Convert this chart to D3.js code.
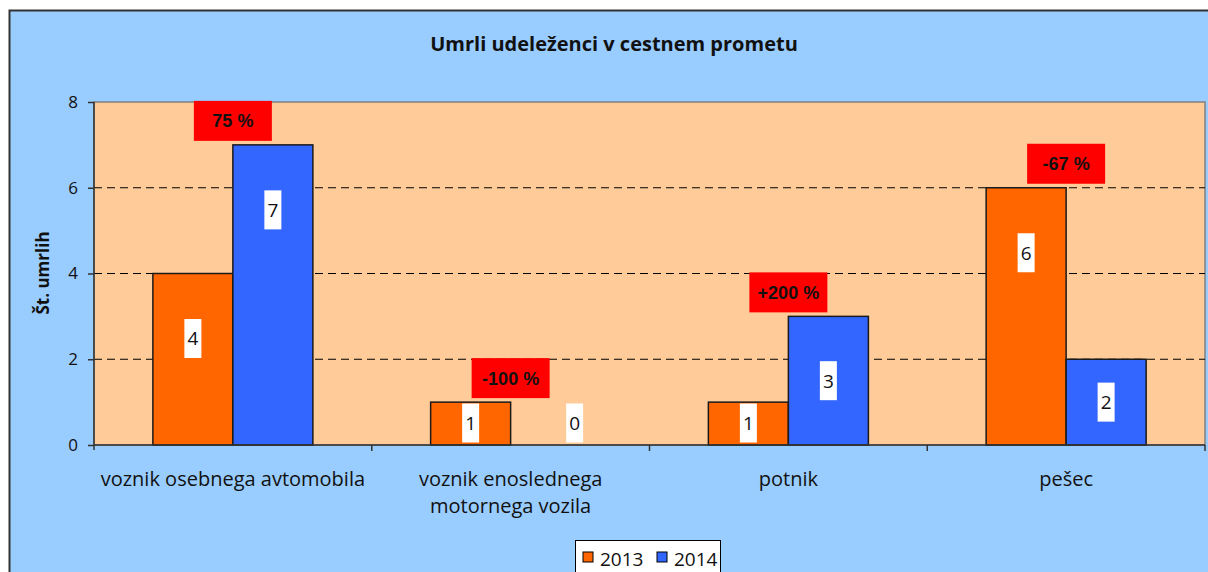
<!DOCTYPE html>
<html>
<head>
<meta charset="utf-8">
<script src="https://cdn.jsdelivr.net/npm/d3@7"></script>
<style>
    body { margin: 0; background: #fff; }
    svg { display: block; font-family: "Open Sans", sans-serif; }
</style>
</head>
<body>
<div id="chart"></div>
<script>
const categories = [["voznik osebnega avtomobila"], ["voznik enoslednega", "motornega vozila"], ["potnik"], ["pešec"]];
const years = ["2013", "2014"];
const values2013 = [4, 1, 1, 6];
const values2014 = [7, 0, 3, 2];
const changeLabels = ["75 %", "-100 %", "+200 %", "-67 %"];
const yTicks = [0, 2, 4, 6, 8];

const colors = { "2013": "#FF6600", "2014": "#3366FF" };

const width = 1208;
const height = 572;
const plot = { left: 94, top: 102, right: 1205, bottom: 445 };

const svg = d3.select("#chart")
    .append("svg")
    .attr("width", width)
    .attr("height", height);

// outer chart area (runs off the bottom/right of the window)
svg.append("rect")
    .attr("x", 9.5)
    .attr("y", 10.5)
    .attr("width", 1240)
    .attr("height", 640)
    .attr("fill", "#99CCFF")
    .attr("stroke", "#333")
    .attr("stroke-width", 2);

svg.append("text")
    .attr("x", 614)
    .attr("y", 51)
    .attr("text-anchor", "middle")
    .style("font-size", "20px")
    .style("font-weight", "bold")
    .attr("fill", "#111")
    .text("Umrli udeleženci v cestnem prometu");

const keys = categories.map((c, i) => i);

const x0 = d3.scaleBand()
    .domain(keys)
    .range([plot.left, plot.right])
    .padding(0);

const groupWidth = 160;
const x1 = d3.scaleBand()
    .domain(years)
    .range([0, groupWidth]);

const y = d3.scaleLinear()
    .domain([0, 8])
    .range([plot.bottom, plot.top]);

// plot area
svg.append("rect")
    .attr("x", plot.left)
    .attr("y", plot.top)
    .attr("width", plot.right - plot.left)
    .attr("height", plot.bottom - plot.top)
    .attr("fill", "#FFCC99")
    .attr("stroke", "#808080")
    .attr("stroke-width", 1.5);

// gridlines
svg.append("g")
    .selectAll("line")
    .data(yTicks.filter(t => t > 0 && t < 8))
    .enter()
    .append("line")
    .attr("x1", plot.left)
    .attr("x2", plot.right)
    .attr("y1", d => y(d))
    .attr("y2", d => y(d))
    .attr("stroke", "#000")
    .attr("stroke-width", 1)
    .attr("stroke-dasharray", "8,5");

// bars
const groups = svg.append("g")
    .selectAll("g")
    .data(keys)
    .enter()
    .append("g")
    .attr("transform", d => `translate(${x0(d) + (x0.bandwidth() - groupWidth) / 2},0)`);

const barData = i => years.map(yr => ({ year: yr, value: yr === "2013" ? values2013[i] : values2014[i] }));

groups.selectAll("rect")
    .data(d => barData(d))
    .enter()
    .append("rect")
    .filter(d => d.value > 0)
    .attr("x", d => x1(d.year))
    .attr("y", d => y(d.value))
    .attr("width", x1.bandwidth())
    .attr("height", d => y(0) - y(d.value))
    .attr("fill", d => colors[d.year])
    .attr("stroke", "#1a1a1a")
    .attr("stroke-width", 1.5);

// value labels on white boxes
function labelCenter(v) {
    return Math.min((y(v) + y(0)) / 2, y(v) + 65, y(0) - 22);
}

const valueLabels = groups.selectAll("g.val")
    .data(d => barData(d))
    .enter()
    .append("g")
    .attr("class", "val")
    .attr("transform", d => `translate(${x1(d.year) + x1.bandwidth() / 2 + (d.value === 0 ? 24 : 0)},${labelCenter(d.value)})`);

valueLabels.append("rect")
    .attr("x", -8.5)
    .attr("y", -19.5)
    .attr("width", 17)
    .attr("height", 39)
    .attr("fill", "#fff");

valueLabels.append("text")
    .attr("text-anchor", "middle")
    .attr("dy", "0.36em")
    .style("font-size", "19px")
    .attr("fill", "#111")
    .text(d => d.value);

// change boxes
const changes = groups.append("g")
    .attr("transform", d => `translate(${groupWidth / 2},${y(Math.max(values2013[d], values2014[d])) - 4})`);

changes.append("rect")
    .attr("x", -39)
    .attr("y", -40)
    .attr("width", 78)
    .attr("height", 40)
    .attr("fill", "#FF0000");

changes.append("text")
    .attr("y", -20)
    .attr("dy", "0.36em")
    .attr("text-anchor", "middle")
    .style("font-family", "'Liberation Sans', Arial, sans-serif")
    .style("font-size", "18px")
    .style("font-weight", "bold")
    .attr("fill", "#111")
    .text(d => changeLabels[d]);

// y axis
const yAxis = svg.append("g")
    .attr("transform", `translate(${plot.left},0)`)
    .call(d3.axisLeft(y).tickValues(yTicks).tickSize(6).tickPadding(10));

yAxis.select(".domain").attr("stroke", "#333").attr("stroke-width", 1.5)
    .attr("d", `M0,${plot.top}V${plot.bottom + 5}`);
yAxis.selectAll(".tick line").attr("stroke", "#333").attr("stroke-width", 1.5);
yAxis.selectAll(".tick text")
    .style("font-family", "'Open Sans', sans-serif")
    .style("font-size", "17px")
    .attr("fill", "#111");

svg.append("text")
    .attr("transform", "translate(49,273) rotate(-90)")
    .attr("text-anchor", "middle")
    .style("font-size", "17px")
    .style("font-weight", "bold")
    .attr("fill", "#111")
    .text("Št. umrlih");

// x axis
const xAxis = svg.append("g")
    .attr("transform", `translate(0,${plot.bottom})`);

xAxis.append("line")
    .attr("x1", plot.left)
    .attr("x2", plot.right)
    .attr("stroke", "#333")
    .attr("stroke-width", 1.5);

xAxis.selectAll("line.tick")
    .data(keys.slice(1).concat([keys.length]))
    .enter()
    .append("line")
    .attr("class", "tick")
    .attr("x1", d => d < keys.length ? x0(d) : plot.right)
    .attr("x2", d => d < keys.length ? x0(d) : plot.right)
    .attr("y1", 0)
    .attr("y2", 6)
    .attr("stroke", "#333")
    .attr("stroke-width", 1.5);

xAxis.selectAll("text")
    .data(keys)
    .enter()
    .append("text")
    .attr("x", d => x0(d) + x0.bandwidth() / 2)
    .attr("y", 41)
    .attr("text-anchor", "middle")
    .style("font-size", "20px")
    .attr("fill", "#111")
    .each(function(d) {
        d3.select(this).selectAll("tspan")
            .data(categories[d])
            .enter()
            .append("tspan")
            .attr("x", x0(d) + x0.bandwidth() / 2)
            .attr("dy", (t, j) => j === 0 ? 0 : 27)
            .text(t => t);
    });

// legend
const legend = svg.append("g").attr("transform", "translate(575.5,540.5)");
legend.append("rect")
    .attr("width", 145)
    .attr("height", 45)
    .attr("fill", "#fff")
    .attr("stroke", "#000");

const items = legend.selectAll("g")
    .data(years)
    .enter()
    .append("g")
    .attr("transform", (d, i) => `translate(${7.5 + i * 74},0)`);

items.append("rect")
    .attr("y", 11.5)
    .attr("width", 10)
    .attr("height", 10)
    .attr("fill", d => colors[d])
    .attr("stroke", "#000");

items.append("text")
    .attr("x", 17)
    .attr("y", 25)
    .style("font-size", "19px")
    .attr("fill", "#111")
    .text(d => d);
</script>
</body>
</html>
